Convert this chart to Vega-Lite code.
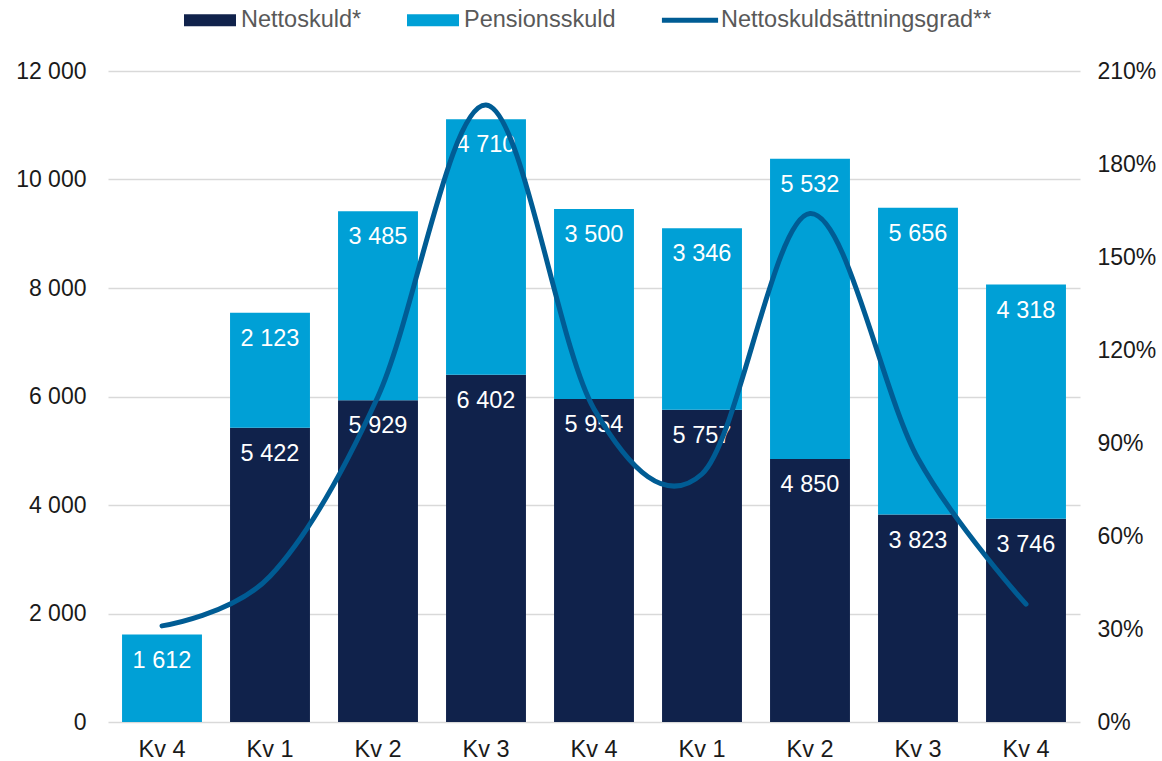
{
  "$schema": "https://vega.github.io/schema/vega-lite/v6.json",
  "width": 972,
  "height": 651,
  "autosize": {"type": "none"},
  "padding": {"left": 108, "top": 71, "right": 82, "bottom": 39},
  "datasets": {
    "bars": [
      {"period": "2019 Kv 4", "serie": "Pensionsskuld", "value": 1612},
      {"period": "2020 Kv 1", "serie": "Nettoskuld*", "value": 5422},
      {"period": "2020 Kv 1", "serie": "Pensionsskuld", "value": 2123},
      {"period": "2020 Kv 2", "serie": "Nettoskuld*", "value": 5929},
      {"period": "2020 Kv 2", "serie": "Pensionsskuld", "value": 3485},
      {"period": "2020 Kv 3", "serie": "Nettoskuld*", "value": 6402},
      {"period": "2020 Kv 3", "serie": "Pensionsskuld", "value": 4710},
      {"period": "2020 Kv 4", "serie": "Nettoskuld*", "value": 5954},
      {"period": "2020 Kv 4", "serie": "Pensionsskuld", "value": 3500},
      {"period": "2021 Kv 1", "serie": "Nettoskuld*", "value": 5757},
      {"period": "2021 Kv 1", "serie": "Pensionsskuld", "value": 3346},
      {"period": "2021 Kv 2", "serie": "Nettoskuld*", "value": 4850},
      {"period": "2021 Kv 2", "serie": "Pensionsskuld", "value": 5532},
      {"period": "2021 Kv 3", "serie": "Nettoskuld*", "value": 3823},
      {"period": "2021 Kv 3", "serie": "Pensionsskuld", "value": 5656},
      {"period": "2021 Kv 4", "serie": "Nettoskuld*", "value": 3746},
      {"period": "2021 Kv 4", "serie": "Pensionsskuld", "value": 4318}
    ],
    "ratio": [
      {"period": "2019 Kv 4", "ratio": 0.31},
      {"period": "2020 Kv 1", "ratio": 0.47},
      {"period": "2020 Kv 2", "ratio": 1.05},
      {"period": "2020 Kv 3", "ratio": 1.99},
      {"period": "2020 Kv 4", "ratio": 1.01},
      {"period": "2021 Kv 1", "ratio": 0.80},
      {"period": "2021 Kv 2", "ratio": 1.64},
      {"period": "2021 Kv 3", "ratio": 0.85},
      {"period": "2021 Kv 4", "ratio": 0.38}
    ]
  },
  "encoding": {
    "x": {
      "field": "period",
      "type": "nominal",
      "sort": null,
      "scale": {"paddingInner": 0.26, "paddingOuter": 0.13},
      "axis": {
        "labelExpr": "substring(datum.label, 5)",
        "labelAngle": 0,
        "labelPadding": 15,
        "labelFontSize": 23.5,
        "grid": false,
        "domain": false,
        "ticks": false,
        "title": null
      }
    }
  },
  "layer": [
    {
      "data": {"name": "bars"},
      "encoding": {
        "y": {
          "field": "value",
          "type": "quantitative",
          "stack": "zero",
          "scale": {"domain": [0, 12000]},
          "axis": {
            "values": [0, 2000, 4000, 6000, 8000, 10000, 12000],
            "format": ",d",
            "grid": true,
            "gridColor": "#D9D9D9",
            "gridWidth": 1.3,
            "labelPadding": 22,
            "title": null
          }
        },
        "order": {"field": "serie", "type": "nominal", "sort": "ascending"}
      },
      "layer": [
        {
          "mark": {"type": "bar"},
          "encoding": {
            "color": {
              "field": "serie",
              "type": "nominal",
              "scale": {
                "domain": ["Nettoskuld*", "Pensionsskuld", "Nettoskuldsättningsgrad**"],
                "range": ["#10224B", "#00A0D6", "#005C94"]
              },
              "legend": {
                "orient": "none",
                "direction": "horizontal",
                "legendX": 76,
                "legendY": -77,
                "title": null,
                "symbolSize": 2704,
                "symbolStrokeWidth": 0,
                "labelOffset": 5,
                "columnPadding": 45,
                "labelLimit": 500,
                "labelFont": "Liberation Sans",
                "labelFontSize": 23.5,
                "labelColor": "#595959",
                "encode": {
                  "symbols": {
                    "update": {
                      "shape": {"signal": "datum.value === 'Nettoskuldsättningsgrad**' ? 'M-1.08,-0.096H1.08V0.096H-1.08Z' : 'M-1,-0.23H1V0.23H-1Z'"},
                      "fill": {"signal": "scale('color', datum.value)"},
                      "stroke": {"value": "transparent"},
                      "opacity": {"value": 1}
                    }
                  }
                }
              }
            }
          }
        },
        {
          "mark": {
            "type": "text",
            "dy": 26,
            "baseline": "middle",
            "align": "center",
            "color": "white",
            "font": "Liberation Sans",
            "fontSize": 23.5
          },
          "encoding": {
            "detail": {"field": "serie", "type": "nominal"},
            "text": {"field": "value", "type": "quantitative", "format": ",d"}
          }
        }
      ]
    },
    {
      "data": {"name": "ratio"},
      "mark": {
        "type": "line",
        "interpolate": "cardinal",
        "tension": 0,
        "strokeWidth": 5,
        "strokeCap": "round"
      },
      "encoding": {
        "y": {
          "field": "ratio",
          "type": "quantitative",
          "scale": {"domain": [0, 2.1]},
          "axis": {
            "orient": "right",
            "values": [0, 0.3, 0.6, 0.9, 1.2, 1.5, 1.8, 2.1],
            "format": ".0%",
            "grid": false,
            "labelPadding": 17,
            "title": null
          }
        },
        "color": {"datum": "Nettoskuldsättningsgrad**", "type": "nominal"}
      }
    }
  ],
  "resolve": {"scale": {"y": "independent"}},
  "config": {
    "locale": {
      "number": {"decimal": ",", "thousands": " ", "grouping": [3], "currency": ["", " kr"]}
    },
    "view": {"stroke": null},
    "axis": {
      "domain": false,
      "ticks": false,
      "labelFont": "Liberation Sans",
      "labelFontSize": 23,
      "labelColor": "#1a1a1a"
    }
  }
}
